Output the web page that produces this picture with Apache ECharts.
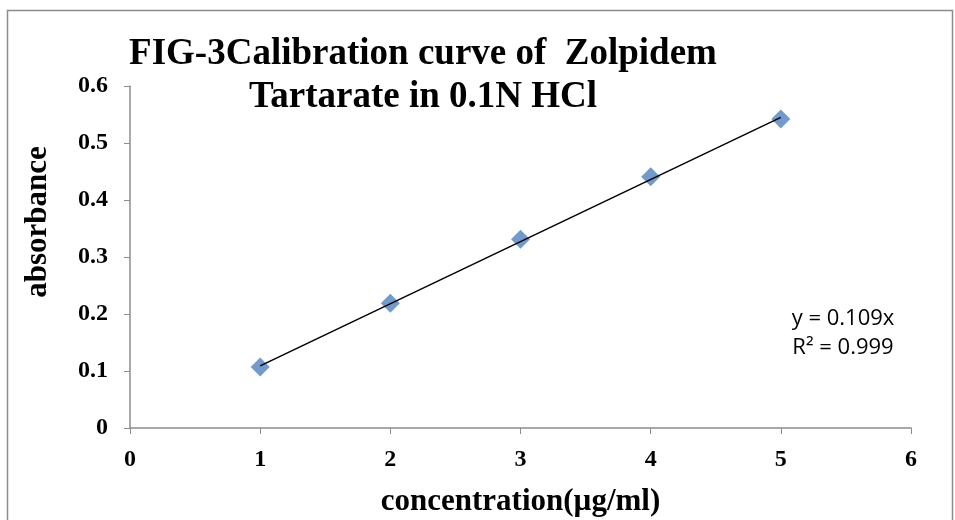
<!DOCTYPE html>
<html>
<head>
<meta charset="utf-8">
<script src="https://cdn.jsdelivr.net/npm/echarts@6/dist/echarts.min.js"></script>
<style>
  html, body { margin: 0; padding: 0; background: #fff; }
  #chart { width: 955px; height: 520px; }
</style>
</head>
<body>
<div id="chart"></div>
<script>
// Данные калибровочной кривой
const concentration = [1, 2, 3, 4, 5];
const absorbance = [0.107, 0.219, 0.331, 0.441, 0.542];
const xTicks = [0, 1, 2, 3, 4, 5, 6];
const yTicks = [0, 0.1, 0.2, 0.3, 0.4, 0.5, 0.6];
const slope = 0.109;
const rSquared = 0.999;

const serif = '"Liberation Serif", "Times New Roman", serif';
const chart = echarts.init(document.getElementById('chart'));

// Линия тренда: от первой до последней точки
const trendX = [concentration[0], concentration[concentration.length - 1]];
const trendData = trendX.map(x => [x, slope * x]);

const option = {
    backgroundColor: '#fff',
    animation: false,
    title: {
        text: 'FIG-3Calibration curve of  Zolpidem\nTartarate in 0.1N HCl',
        left: 418,
        top: 28,
        textAlign: 'center',
        textStyle: {
            fontFamily: serif,
            fontWeight: 'bold',
            fontSize: 37,
            lineHeight: 43,
            color: '#000'
        }
    },
    grid: { left: 130, right: 44, top: 86, bottom: 92, containLabel: false, outerBoundsMode: 'none' },
    xAxis: {
        type: 'value',
        min: xTicks[0],
        max: xTicks[xTicks.length - 1],
        interval: 1,
        name: 'concentration(µg/ml)',
        nameLocation: 'middle',
        nameGap: 58,
        nameTextStyle: { fontFamily: serif, fontWeight: 'bold', fontSize: 31, color: '#000' },
        axisLine: { lineStyle: { color: '#8c8c8c', width: 1.5 } },
        axisTick: { show: true, length: 6, lineStyle: { color: '#8c8c8c' } },
        axisLabel: { fontFamily: serif, fontWeight: 'bold', fontSize: 24, color: '#000', margin: 20 },
        splitLine: { show: false }
    },
    yAxis: {
        type: 'value',
        min: yTicks[0],
        max: yTicks[yTicks.length - 1],
        interval: 0.1,
        axisLine: { show: true, lineStyle: { color: '#8c8c8c', width: 1.5 } },
        axisTick: { show: true, length: 6, lineStyle: { color: '#8c8c8c' } },
        axisLabel: { fontFamily: serif, fontWeight: 'bold', fontSize: 24, color: '#000', margin: 22 },
        splitLine: { show: false }
    },
    graphic: [
        {
            type: 'rect',
            shape: { x: 7.5, y: 10.5, width: 945, height: 520 },
            style: { fill: 'none', stroke: '#8c8c8c', lineWidth: 1.5 },
            silent: true
        },
        {
            // подпись оси Y
            type: 'text',
            x: 38,
            y: 222,
            rotation: Math.PI / 2,
            style: {
                text: 'absorbance',
                font: 'bold 31px ' + serif,
                fill: '#000',
                align: 'center',
                verticalAlign: 'middle'
            }
        },
        {
            // уравнение линии тренда
            type: 'text',
            x: 843,
            y: 304,
            style: {
                text: 'y = ' + slope + 'x\nR² = ' + rSquared,
                font: '22px "Open Sans", "Liberation Sans", sans-serif',
                lineHeight: 29,
                fill: '#000',
                align: 'center'
            }
        }
    ],
    series: [
        {
            name: 'trend',
            type: 'line',
            data: trendData,
            symbol: 'none',
            lineStyle: { color: '#000', width: 1.5 },
            z: 3
        },
        {
            name: 'absorbance',
            type: 'scatter',
            data: concentration.map((c, i) => [c, absorbance[i]]),
            symbol: 'diamond',
            symbolSize: [19, 19],
            itemStyle: { color: '#4f81bd' },
            z: 2
        }
    ]
};

chart.setOption(option);
</script>
</body>
</html>
